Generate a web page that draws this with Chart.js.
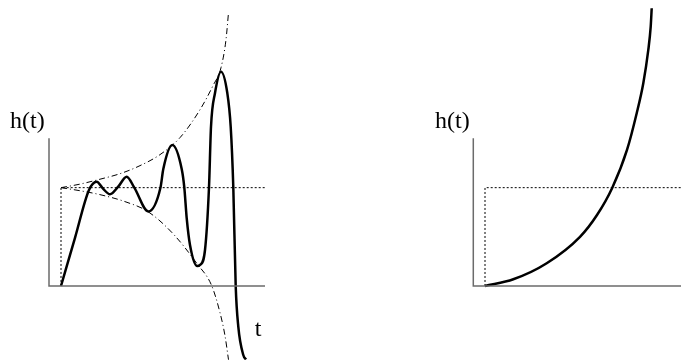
<!DOCTYPE html>
<html>
<head>
<meta charset="utf-8">
<script src="https://cdn.jsdelivr.net/npm/chart.js@4/dist/chart.umd.min.js"></script>
<style>
  html, body { margin: 0; padding: 0; background: #fff; }
  #wrap { position: relative; width: 681px; height: 360px; overflow: hidden; }
  canvas { position: absolute; top: 0; }
  #left { left: 0; }
  #right { left: 340px; }
</style>
</head>
<body>
<div id="wrap">
  <canvas id="left" width="340" height="360"></canvas>
  <canvas id="right" width="341" height="360"></canvas>
</div>
<script>
// --- left panel: unstable oscillating step response ---
const leftT = [0, 0.7, 1.4, 1.785, 2.1, 2.45, 2.85, 3.285, 3.665, 4.365, 4.975, 5.115, 5.565, 6.035, 6.165, 6.285, 6.45, 6.815, 6.95, 7.2, 7.4, 7.5, 7.7, 8.0, 8.315, 8.485, 8.615, 8.735, 8.865, 9.115, 9.25];
const leftH = [0, 0.49, 0.977, 1.061, 0.99, 0.933, 1.007, 1.112, 1.0, 0.758, 1.002, 1.19, 1.434, 1.19, 1.002, 0.69, 0.417, 0.203, 0.214, 0.366, 1.004, 1.62, 1.963, 2.18, 1.963, 1.62, 1.004, 0, -0.414, -0.702, -0.748];

// envelopes (dash-dot)
const upperT = [0, 0.95, 1.95, 2.95, 3.95, 4.95, 5.95, 6.95, 7.6, 8.0, 8.25, 8.375];
const upperH = [1.0, 1.036, 1.086, 1.142, 1.224, 1.336, 1.509, 1.793, 2.038, 2.221, 2.506, 2.78];
const lowerT = [0, 0.95, 1.95, 3.2, 4.35, 5.6, 6.8, 7.535, 7.95, 8.2, 8.375];
const lowerH = [1.0, 0.969, 0.929, 0.858, 0.756, 0.532, 0.227, 0.003, -0.272, -0.506, -0.75];

// --- right panel: monotonically diverging response ---
const rightT = [0, 1.415, 3.085, 4.75, 5.6, 6.365, 7.1, 7.585, 7.915, 8.165, 8.285, 8.335];
const rightH = [0, 0.068, 0.231, 0.5, 0.722, 1.0, 1.384, 1.757, 2.062, 2.401, 2.638, 2.825];

// axes, reference level and label text
const refLevel = 1;
const leftAxisT = [-0.6, 10.2];
const rightAxisT = [-0.585, 9.8];
const axisTop = 1.503;
const yLabel = 'h(t)';
const xLabel = 't';

function pts(xs, ys) {
    return xs.map((x, i) => ({ x: x, y: ys[i] }));
}

function curve(xs, ys) {
    return {
        data: pts(xs, ys),
        borderColor: '#000',
        borderWidth: 2.5,
        pointRadius: 0,
        cubicInterpolationMode: 'monotone',
        fill: false
    };
}

function straight(data, color, width, dash) {
    return {
        data: data,
        borderColor: color,
        borderWidth: width,
        borderDash: dash || [],
        pointRadius: 0,
        tension: 0,
        fill: false
    };
}

function envelope(xs, ys) {
    const ds = curve(xs, ys);
    ds.borderWidth = 1;
    ds.borderDash = [6, 3, 1, 3];
    return ds;
}

// draws the axis labels as text on top of the chart
const labelPlugin = {
    id: 'labels',
    afterDraw(chart, args, opts) {
        const c = chart.ctx;
        c.save();
        c.fillStyle = '#000';
        c.font = '24px "Liberation Serif", "Times New Roman", serif';
        c.textBaseline = 'alphabetic';
        (opts.items || []).forEach(it => {
            c.textAlign = it.align || 'left';
            c.fillText(it.text, it.x, it.y);
        });
        c.restore();
    }
};

function makeChart(id, datasets, xmin, xmax, labels) {
    return new Chart(document.getElementById(id).getContext('2d'), {
        type: 'line',
        data: { datasets: datasets },
        options: {
            responsive: false,
            animation: false,
            devicePixelRatio: 1,
            events: [],
            layout: { padding: 0 },
            clip: false,
            scales: {
                x: { type: 'linear', min: xmin, max: xmax, display: false },
                y: { type: 'linear', min: -0.753, max: 2.909, display: false }
            },
            plugins: {
                legend: { display: false },
                tooltip: { enabled: false },
                labels: { items: labels }
            }
        },
        plugins: [labelPlugin]
    });
}

const axisColor = '#6b6b6b';

makeChart('left', [
    straight([{ x: leftAxisT[0], y: axisTop }, { x: leftAxisT[0], y: 0 }, { x: leftAxisT[1], y: 0 }], axisColor, 1.5),
    straight([{ x: 0, y: 0 }, { x: 0, y: refLevel }, { x: leftAxisT[1], y: refLevel }], '#000', 1, [2, 2]),
    envelope(upperT, upperH),
    envelope(lowerT, lowerH),
    curve(leftT, leftH)
], -3.05, 13.95, [
    { text: yLabel, x: 10, y: 128 },
    { text: xLabel, x: 258, y: 336, align: 'center' }
]);

makeChart('right', [
    straight([{ x: rightAxisT[0], y: axisTop }, { x: rightAxisT[0], y: 0 }, { x: rightAxisT[1], y: 0 }], axisColor, 1.5),
    straight([{ x: 0, y: 0 }, { x: 0, y: refLevel }, { x: rightAxisT[1], y: refLevel }], '#000', 1, [2, 2]),
    curve(rightT, rightH)
], -7.25, 9.8, [
    { text: yLabel, x: 95, y: 128 }
]);
</script>
</body>
</html>
